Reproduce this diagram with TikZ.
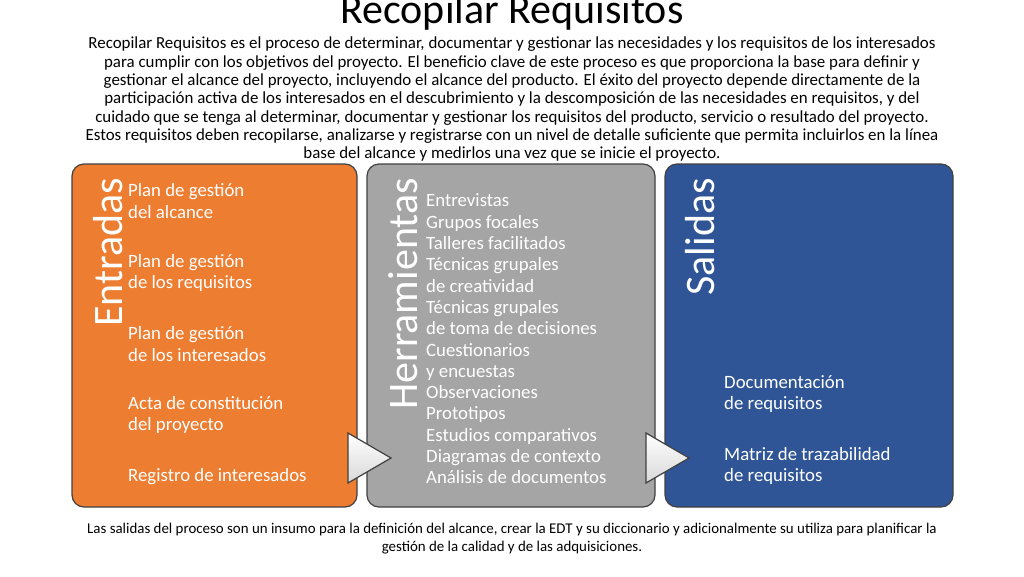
\documentclass[tikz,border=0pt]{standalone}
\usepackage{fontspec}
\setmainfont{Carlito}
\definecolor{corange}{HTML}{ED7D31}
\definecolor{cgrey}{HTML}{A5A5A5}
\definecolor{cblue}{HTML}{2F5597}
\definecolor{cline}{HTML}{404040}
\begin{document}
\begin{tikzpicture}[x=1pt,y=-1pt,
  panel/.style={draw=cline,line width=1.2pt,rounded corners=12pt},
  heading/.style={rotate=90,anchor=east,text=white,font=\fontsize{42}{44}\selectfont,inner sep=0pt},
  item/.style={anchor=west,text=white,font=\fontsize{18.8}{21.3}\selectfont,inner sep=0pt,align=left},
  tri/.style={draw=cline,line width=1.2pt,fill=white,top color=white,bottom color=gray!30}]
\useasboundingbox (0,0) rectangle (1024,576);
\node (title) at (512,12) {\fontsize{42}{44}\selectfont Recopilar Requisitos};
\node (para) [anchor=north,align=center,font=\fontsize{16.9}{18.3}\selectfont,inner sep=0pt] at (512,37) {Recopilar Requisitos es el proceso de determinar, documentar y gestionar las necesidades y los requisitos de los interesados\\para cumplir con los objetivos del proyecto. El beneficio clave de este proceso es que proporciona la base para definir y\\gestionar el alcance del proyecto, incluyendo el alcance del producto. El éxito del proyecto depende directamente de la\\participación activa de los interesados en el descubrimiento y la descomposición de las necesidades en requisitos, y del\\cuidado que se tenga al determinar, documentar y gestionar los requisitos del producto, servicio o resultado del proyecto.\\Estos requisitos deben recopilarse, analizarse y registrarse con un nivel de detalle suficiente que permita incluirlos en la línea\\base del alcance y medirlos una vez que se inicie el proyecto.};
\draw[panel,fill=corange] (72,164) rectangle (357,507);
\draw[panel,fill=cgrey] (367,164) rectangle (655,507);
\draw[panel,fill=cblue] (665,164) rectangle (953,507);
\node (h1) [heading] at (108,178) {Entradas};
\node (h2) [heading] at (403,178) {Herramientas};
\node (h3) [heading] at (700,178) {Salidas};
\node (e1) [item] at (128,201) {Plan de gestión\\del alcance};
\node (e2) [item] at (128,273) {Plan de gestión\\de los requisitos};
\node (e3) [item] at (128,344) {Plan de gestión\\de los interesados};
\node (e4) [item] at (128,415) {Acta de constitución\\del proyecto};
\node (e5) [item] at (128,477) {Registro de interesados};
\node (t1) [item] at (426,339) {Entrevistas\\Grupos focales\\Talleres facilitados\\Técnicas grupales\\de creatividad\\Técnicas grupales\\de toma de decisiones\\Cuestionarios\\y encuestas\\Observaciones\\Prototipos\\Estudios comparativos\\Diagramas de contexto\\Análisis de documentos};
\node (s1) [item] at (724,394) {Documentación\\de requisitos};
\node (s2) [item] at (724,466) {Matriz de trazabilidad\\de requisitos};
\draw[tri] (348,433) -- (391,458) -- (348,483) -- cycle;
\draw[tri] (646,433) -- (689,458) -- (646,483) -- cycle;
\node (foot) [anchor=north,align=center,font=\fontsize{14.9}{18}\selectfont,inner sep=0pt] at (512,523) {Las salidas del proceso son un insumo para la definición del alcance, crear la EDT y su diccionario y adicionalmente su utiliza para planificar la\\gestión de la calidad y de las adquisiciones.};
\end{tikzpicture}
\end{document}
